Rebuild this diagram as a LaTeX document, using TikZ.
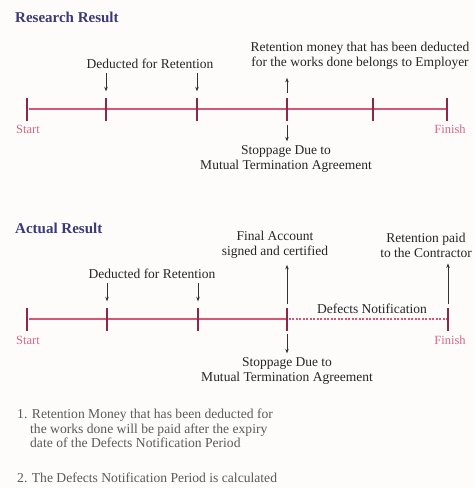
\documentclass[tikz,border=0pt]{standalone}
\usepackage{fontspec}
\setmainfont{Liberation Serif}
\usetikzlibrary{positioning,arrows.meta}
\definecolor{lineRed}{RGB}{214,86,118}
\definecolor{tickRed}{RGB}{140,40,70}
\definecolor{titleBlue}{RGB}{58,58,118}
\definecolor{labelPink}{RGB}{214,104,134}
\definecolor{noteGray}{RGB}{90,90,90}
\definecolor{paper}{RGB}{253,252,250}
\tikzset{
  txt/.style={font=\fontsize{13.5}{15}\selectfont,align=center,inner sep=0pt,text=black!85},
  ttl/.style={font=\fontsize{15}{16}\selectfont\bfseries,text=titleBlue,inner sep=0pt,anchor=west},
  endlbl/.style={font=\fontsize{12.5}{13}\selectfont,text=labelPink,inner sep=0pt},
  note/.style={font=\fontsize{13.6}{14.5}\selectfont,align=left,inner sep=0pt,text=noteGray},
  tickmark/.style={fill=tickRed,minimum width=2.6pt,minimum height=23pt,inner sep=0pt},
  timeline/.style={draw=lineRed,line width=1.8pt},
  dotline/.style={draw=lineRed,line width=2.3pt,dash pattern=on 2pt off 1.5pt},
  pointer/.style={->,draw=black!80,line width=0.8pt}
}
\begin{document}
\begin{tikzpicture}[x=1pt,y=-1pt,>={Stealth[length=4.5pt,width=3.5pt]}]
\useasboundingbox[fill=paper] (0,0) rectangle (474,488);
\node[ttl] (ttlA) at (15,17) {Research Result};
\node[txt] (rm) at (360,56) {Retention money that has been deducted\\for the works done belongs to Employer};
\node[txt] (dr) at (150,64) {Deducted for Retention};
\foreach \n/\x in {0/27,1/106,2/197,3/287,4/373,5/447}
  \node[tickmark] (t\n) at (\x,109) {};
\draw[timeline] (t0) -- (t5);
\foreach \n in {0,...,5}
  \node[tickmark] at (t\n) {};
\node[endlbl] (st) at (28,129) {Start};
\node[endlbl] (fi) at (450,129) {Finish};
\node[txt] (sd) at (286,159) {Stoppage Due to\\Mutual Termination Agreement};
\draw[pointer,shorten <=4pt,shorten >=6pt] (t1.north |- dr.south) -- (t1.north);
\draw[pointer,shorten <=4pt,shorten >=6pt] (t2.north |- dr.south) -- (t2.north);
\draw[pointer,shorten <=4pt,shorten >=8pt] (t3.north) -- (t3.north |- rm.south);
\draw[pointer,shorten <=4pt,shorten >=4pt] (t3.south) -- (t3.south |- sd.north);

\node[ttl] (ttlB) at (15,228) {Actual Result};
\node[txt] (fa) at (275,245) {Final Account\\signed and certified};
\node[txt] (rp) at (426,245) {Retention paid\\to the Contractor};
\node[txt] (dr2) at (152,274) {Deducted for Retention};
\foreach \n/\x in {0/27,1/107,2/198,3/287,4/448}
  \node[tickmark] (b\n) at (\x,319) {};
\draw[timeline] (b0) -- (b3);
\draw[dotline] (b3) -- (b4);
\foreach \n in {0,...,4}
  \node[tickmark] at (b\n) {};
\node[txt] (dn) at (372,309) {Defects Notification};
\node[endlbl] (st2) at (28,340) {Start};
\node[endlbl] (fi2) at (450,340) {Finish};
\node[txt] (sd2) at (287,371) {Stoppage Due to\\Mutual Termination Agreement};
\draw[pointer,shorten <=4pt,shorten >=6pt] (b1.north |- dr2.south) -- (b1.north);
\draw[pointer,shorten <=4pt,shorten >=6pt] (b2.north |- dr2.south) -- (b2.north);
\draw[pointer,shorten <=3pt,shorten >=6pt] (b3.north) -- (b3.north |- fa.south);
\draw[pointer,shorten <=3pt,shorten >=6pt] (b4.north) -- (b4.north |- rp.south);
\draw[pointer,shorten <=3pt,shorten >=4pt] (b3.south) -- (b3.south |- sd2.north);

\node[note,anchor=north west] (n1) at (17,409) {1. Retention Money that has been deducted for\\\hspace*{13pt}the works done will be paid after the expiry\\\hspace*{13pt}date of the Defects Notification Period};
\node[note,anchor=west] (n2) at (17,478) {2. The Defects Notification Period is calculated};
\end{tikzpicture}
\end{document}
